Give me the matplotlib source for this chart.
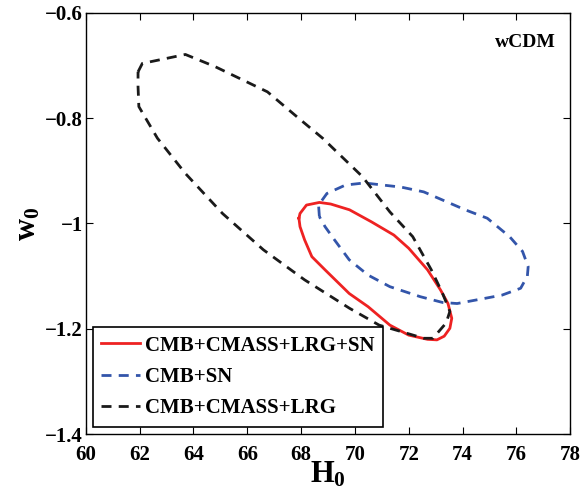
import matplotlib
matplotlib.use('Agg')
import matplotlib.pyplot as plt

plt.rcParams['font.family'] = 'Liberation Serif'
plt.rcParams['font.weight'] = 'bold'
plt.rcParams['mathtext.fontset'] = 'custom'
plt.rcParams['mathtext.rm'] = 'Liberation Serif:bold'
plt.rcParams['mathtext.bf'] = 'Liberation Serif:bold'

# contour outlines (H0, w0)
red_h0 = [67.92, 67.96, 68.2, 68.68, 69.1, 69.8, 70.62, 71.45, 72.0, 72.7, 73.18, 73.46,
          73.6, 73.53, 73.32, 73.05, 72.7, 72.0, 71.3, 70.49, 69.79, 68.89, 68.4, 68.13, 67.96, 67.92]
red_w0 = [-0.99, -0.981, -0.965, -0.96, -0.963, -0.974, -0.997, -1.022, -1.047, -1.088, -1.126, -1.152,
          -1.18, -1.199, -1.214, -1.221, -1.22, -1.212, -1.193, -1.158, -1.133, -1.088, -1.063, -1.031, -1.006, -0.99]

blue_h0 = [68.68, 68.65, 68.96, 69.65, 70.35, 71.73, 72.56, 74.1, 74.92, 75.75, 76.23, 76.44,
           76.41, 76.16, 75.47, 74.64, 73.8, 73.26, 72.43, 71.3, 70.49, 69.79, 69.24, 68.89, 68.68]
blue_w0 = [-0.987, -0.965, -0.943, -0.927, -0.923, -0.931, -0.94, -0.974, -0.99, -1.025, -1.053, -1.082,
           -1.10, -1.123, -1.136, -1.144, -1.152, -1.15, -1.139, -1.12, -1.098, -1.069, -1.031, -1.006, -0.987]

black_h0 = [61.94, 62.1, 63.7, 64.8, 66.75, 68.0, 68.8, 70.28, 71.3, 72.15, 72.84, 73.26, 73.53,
            73.39, 72.9, 72.56, 71.7, 70.9, 69.8, 68.13, 66.6, 65.08, 63.7, 62.66, 61.97, 61.94, 61.94]
black_w0 = [-0.712, -0.696, -0.679, -0.702, -0.75, -0.804, -0.838, -0.911, -0.978, -1.025, -1.088, -1.133, -1.167,
            -1.189, -1.218, -1.218, -1.205, -1.193, -1.161, -1.107, -1.05, -0.981, -0.905, -0.838, -0.778, -0.740, -0.712]

labels = ['CMB+CMASS+LRG+SN', 'CMB+SN', 'CMB+CMASS+LRG']

fig = plt.figure(figsize=(5.8, 4.95), dpi=100)
ax = fig.add_axes([0.148, 0.123, 0.835, 0.851])

ax.plot(red_h0, red_w0, '-', color='#ee2222', lw=2.0, label=labels[0])
ax.plot(blue_h0, blue_w0, '--', color='#3355aa', lw=2.0, dashes=(3.6, 2.6), label=labels[1])
ax.plot(black_h0, black_w0, '--', color='#1a1a1a', lw=2.0, dashes=(3.6, 2.6), label=labels[2])

ax.set_xlim(60, 78)
ax.set_ylim(-1.4, -0.6)
ax.set_xticks(range(60, 79, 2))
ax.set_yticks([-1.4, -1.2, -1.0, -0.8, -0.6])
ax.set_yticklabels(['\u22121.4', '\u22121.2', '\u22121', '\u22120.8', '\u22120.6'])
ax.tick_params(direction='in', top=True, right=True, labelsize=15, length=5, width=0.8)
ax.tick_params(axis='x', pad=8)
ax.tick_params(axis='y', pad=2)
for lab in ax.get_xticklabels() + ax.get_yticklabels():
    lab.set_fontweight('bold')
for s in ax.spines.values():
    s.set_linewidth(1.0)

ax.set_xlabel(r'$\mathbf{H_0}$', fontsize=22, labelpad=-4)
ax.set_ylabel(r'$\mathbf{w_0}$', fontsize=22, labelpad=2)

ax.text(0.97, 0.93, 'wCDM', transform=ax.transAxes, ha='right', va='center',
        fontsize=14, fontweight='bold')

leg = ax.legend(loc='lower left', fontsize=15, handlelength=1.85, handletextpad=0.25,
                borderaxespad=0.35, fancybox=False, edgecolor='black',
                framealpha=1, labelspacing=0.55, borderpad=0.4)
leg.get_frame().set_linewidth(1.2)

fig.savefig('out.png', dpi=100)
